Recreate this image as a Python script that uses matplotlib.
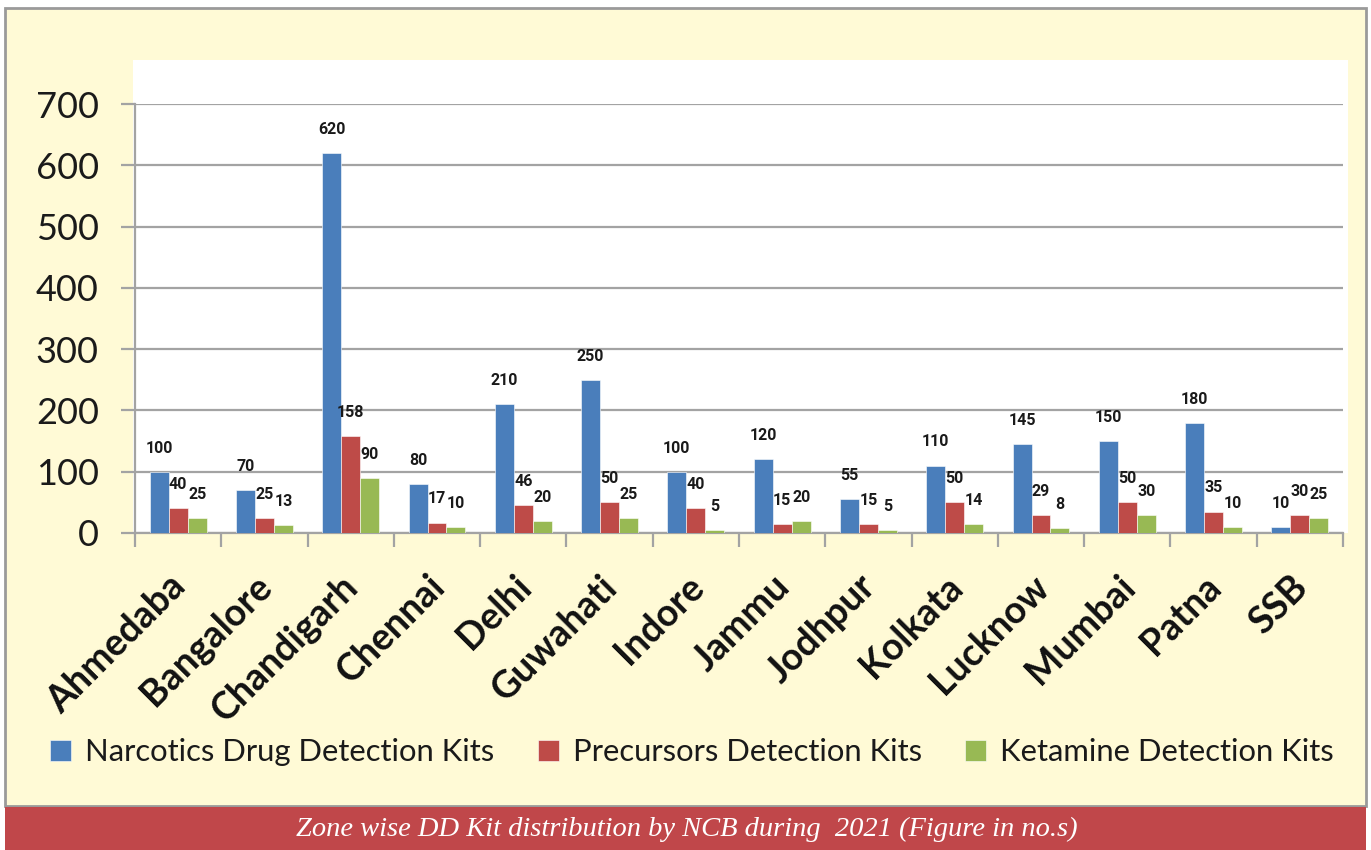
import matplotlib
matplotlib.use("Agg")
import matplotlib.pyplot as plt
from matplotlib.patches import Rectangle
import matplotlib.transforms as mtransforms
import numpy as np

categories = ["Ahmedaba", "Bangalore", "Chandigarh", "Chennai", "Delhi", "Guwahati",
              "Indore", "Jammu", "Jodhpur", "Kolkata", "Lucknow", "Mumbai", "Patna", "SSB"]
narcotics = [100, 70, 620, 80, 210, 250, 100, 120, 55, 110, 145, 150, 180, 10]
precursors = [40, 25, 158, 17, 46, 50, 40, 15, 15, 50, 29, 50, 35, 30]
ketamine = [25, 13, 90, 10, 20, 25, 5, 20, 5, 14, 8, 30, 10, 25]
series_names = ["Narcotics Drug Detection Kits", "Precursors Detection Kits", "Ketamine Detection Kits"]
yticks = [0, 100, 200, 300, 400, 500, 600, 700]
title = "Zone wise DD Kit distribution by NCB during  2021 (Figure in no.s)"

colors = ["#4A7EBB", "#BE4B48", "#98B954"]
bg = "#FFFAD6"
W, H = 1371, 850

fig = plt.figure(figsize=(W / 100, H / 100), dpi=100)
fig.patch.set_facecolor("white")

def fx(px):
    return px / W

def fy(py):
    return 1 - py / H

# outer yellow box
fig.patches.append(Rectangle((fx(5), fy(806)), fx(1361), (806 - 8) / H, transform=fig.transFigure,
                             facecolor=bg, edgecolor="#9A9A9A", linewidth=2, zorder=-3))
# red banner
fig.patches.append(Rectangle((fx(5), 0), fx(1361), (850 - 807) / H, transform=fig.transFigure,
                             facecolor="#C0474A", edgecolor="none", zorder=-3))
# white plot area
fig.patches.append(Rectangle((fx(133), fy(533)), fx(1348 - 133), (533 - 60) / H, transform=fig.transFigure,
                             facecolor="white", edgecolor="none", zorder=-2))

ax = fig.add_axes([fx(135), fy(533), fx(1343 - 135), (533 - 104) / H])
ax.set_facecolor("none")
ax.set_zorder(2)

n = len(categories)
x = np.arange(n)
bw = 0.22
for i, (vals, c) in enumerate(zip([narcotics, precursors, ketamine], colors)):
    pos = x + (i - 1) * bw
    ax.bar(pos, vals, width=bw, color=c, label=series_names[i], zorder=3,
           edgecolor="white", linewidth=0.4)
    for p, v in zip(pos, vals):
        ax.annotate(str(v), (p, v), xytext=(0, 17), textcoords="offset points",
                    ha="center", va="center", fontsize=11.5, fontweight="bold",
                    family=["Roboto", "DejaVu Sans"], color="#1a1a1a", zorder=4)

ax.set_xlim(-0.5, n - 0.5)
ax.set_ylim(0, 700)
ax.set_yticks(yticks)
ax.set_yticklabels([str(t) for t in yticks], fontsize=26, family=["Lato", "DejaVu Sans"], color="#1a1a1a")
ax.yaxis.grid(True, color="#A3A3A3", linewidth=1.6, zorder=1)
ax.set_axisbelow(True)
ax.tick_params(axis="y", length=10, width=1.6, color="#A3A3A3", pad=16)

ax.set_xticks(x)
ax.set_xticklabels(categories, rotation=45, ha="right", rotation_mode="anchor",
                   fontsize=27, fontweight="bold", family=["Lato", "DejaVu Sans"], color="#111111")
ax.set_xticks(np.arange(n + 1) - 0.5, minor=True)
ax.tick_params(axis="x", which="major", length=0, pad=26)
ax.tick_params(axis="x", which="minor", length=10, width=1.6, color="#A3A3A3")

for s in ["top", "right"]:
    ax.spines[s].set_visible(False)
for s in ["left", "bottom"]:
    ax.spines[s].set_color("#A3A3A3")
    ax.spines[s].set_linewidth(1.6)

offset = mtransforms.ScaledTranslation(-10 / 100, 0, fig.dpi_scale_trans)
for lbl in ax.get_xticklabels():
    lbl.set_transform(lbl.get_transform() + offset)

leg = fig.legend(loc="center", bbox_to_anchor=(fx(692), fy(752)), ncol=3, frameon=False,
                 prop={"family": ["Lato", "DejaVu Sans"], "size": 22.3},
                 handlelength=0.68, handleheight=0.68, handletextpad=0.45, columnspacing=1.4)
for t in leg.get_texts():
    t.set_color("#1a1a1a")

fig.text(fx(687), fy(829), title, ha="center", va="center", color="white", fontsize=20.5,
         style="italic", family=["Liberation Serif", "DejaVu Serif"])

fig.savefig("out.png", dpi=100, facecolor=fig.get_facecolor())
